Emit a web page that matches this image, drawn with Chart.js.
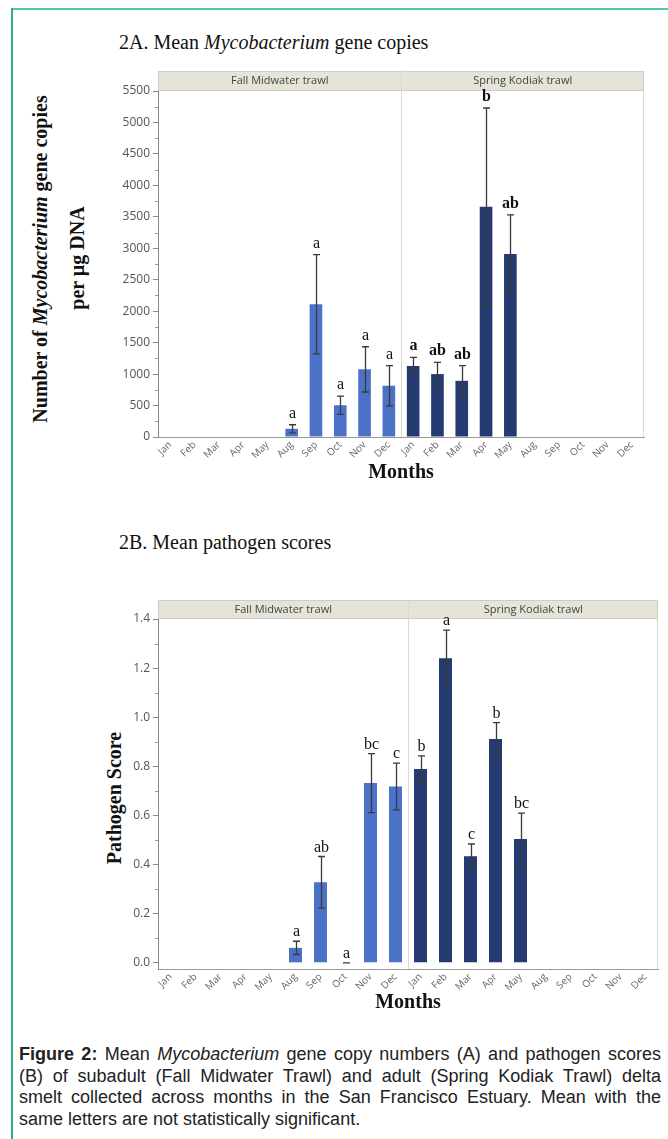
<!DOCTYPE html>
<html>
<head>
<meta charset="utf-8">
<script src="https://cdn.jsdelivr.net/npm/chart.js@4.4.0/dist/chart.umd.min.js"></script>
<style>
  body { margin: 0; background: #fff; width: 668px; height: 1139px; position: relative; overflow: hidden; font-family: "Liberation Serif", "Times New Roman", serif; }
  .frameTop { position: absolute; left: 11px; top: 8px; width: 657px; height: 2px; background: #55c6ac; }
  .frameLeft { position: absolute; left: 11px; top: 8px; width: 2px; height: 1131px; background: #2eaa8e; }
  .title { position: absolute; left: 119px; font-size: 20px; line-height: 23px; color: #111; white-space: nowrap; }
  .ytitle { position: absolute; font-weight: bold; font-size: 20px; color: #111; white-space: nowrap; transform: translate(-50%, -50%) rotate(-90deg); }
  canvas { position: absolute; left: 0; }
  .caption { position: absolute; left: 19px; width: 642px; top: 1044px; font-family: "Liberation Sans", Arial, sans-serif; font-size: 18px; line-height: 21.7px; color: #222; }
  .caption div { white-space: nowrap; text-align: justify; text-align-last: justify; }
  .caption div.last { text-align-last: left; }
</style>
</head>
<body>
<div class="frameTop"></div>
<div class="frameLeft"></div>

<div class="title" style="top:31px">2A. Mean <i>Mycobacterium</i> gene copies</div>
<div class="ytitle" style="left:40px; top:259px">Number of <i>Mycobacterium</i> gene copies</div>
<div class="ytitle" style="left:77px; top:258px">per µg DNA</div>
<canvas id="chartA" width="668" height="425" style="top:60px"></canvas>

<div class="title" style="top:531px">2B. Mean pathogen scores</div>
<div class="ytitle" style="left:114px; top:798px">Pathogen Score</div>
<canvas id="chartB" width="668" height="445" style="top:570px"></canvas>

<div class="caption">
  <div><b>Figure 2:</b> Mean <i>Mycobacterium</i> gene copy numbers (A) and pathogen scores</div>
  <div>(B) of subadult (Fall Midwater Trawl) and adult (Spring Kodiak Trawl) delta</div>
  <div>smelt collected across months in the San Francisco Estuary. Mean with the</div>
  <div class="last">same letters are not statistically significant.</div>
</div>

<script>
const months = ['Jan', 'Feb', 'Mar', 'Apr', 'May', 'Aug', 'Sep', 'Oct', 'Nov', 'Dec'];
const groups = ['Fall Midwater trawl', 'Spring Kodiak trawl'];
const none = [null, null, null, null, null, null, null, null, null, null];

// 2A - mean gene copies, error and letters
const fallCopies = [null, null, null, null, null, 130, 2110, 505, 1075, 815];
const fallCopiesErr = [null, null, null, null, null, 65, 790, 145, 360, 320];
const fallCopiesLetters = ['', '', '', '', '', 'a', 'a', 'a', 'a', 'a'];
const springCopies = [1130, 1000, 893, 3660, 2910, null, null, null, null, null];
const springCopiesErr = [135, 185, 240, 1570, 620, null, null, null, null, null];
const springCopiesLetters = ['a', 'ab', 'ab', 'b', 'ab', '', '', '', '', ''];
const copiesTicks = [0, 500, 1000, 1500, 2000, 2500, 3000, 3500, 4000, 4500, 5000, 5500];

// 2B - mean pathogen score, error and letters
const fallScore = [null, null, null, null, null, 0.061, 0.328, 0, 0.732, 0.718];
const fallScoreErr = [null, null, null, null, null, 0.027, 0.105, 0, 0.12, 0.095];
const fallScoreLetters = ['', '', '', '', '', 'a', 'ab', 'a', 'bc', 'c'];
const springScore = [0.789, 1.24, 0.434, 0.911, 0.504, null, null, null, null, null];
const springScoreErr = [0.054, 0.115, 0.05, 0.067, 0.106, null, null, null, null, null];
const springScoreLetters = ['b', 'a', 'c', 'b', 'bc', '', '', '', '', ''];
const scoreTicks = [0, 0.2, 0.4, 0.6, 0.8, 1.0, 1.2, 1.4];

const fallColor = '#4c72c8';
const springColor = '#243a70';
const tickFont = '"Open Sans", "Noto Sans", sans-serif';
const serif = '"Liberation Serif", "Times New Roman", serif';

// header band, panel divider and right frame
const panelPlugin = {
  id: 'panel',
  beforeDatasetsDraw(chart, args, opts) {
    const ctx = chart.ctx, a = chart.chartArea, x = chart.scales.x;
    const divX = Math.round((x.getPixelForValue(9) + x.getPixelForValue(10)) / 2) + 0.5;
    const bandTop = a.top - opts.bandH;
    ctx.save();
    ctx.fillStyle = '#e6e4d9';
    ctx.fillRect(a.left, bandTop, a.right - a.left, opts.bandH);
    ctx.strokeStyle = '#cfcdc2';
    ctx.lineWidth = 1;
    ctx.strokeRect(a.left + 0.5, bandTop + 0.5, a.right - a.left - 1, opts.bandH - 1);
    ctx.strokeStyle = '#d9d9d9';
    ctx.beginPath();
    ctx.moveTo(divX, bandTop); ctx.lineTo(divX, a.bottom);
    ctx.moveTo(Math.round(a.right) - 0.5, a.top); ctx.lineTo(Math.round(a.right) - 0.5, a.bottom);
    ctx.stroke();
    ctx.fillStyle = '#444';
    ctx.font = '11px ' + tickFont;
    ctx.textAlign = 'center';
    ctx.textBaseline = 'middle';
    ctx.fillText(groups[0], (a.left + divX) / 2, bandTop + opts.bandH / 2);
    ctx.fillText(groups[1], (divX + a.right) / 2, bandTop + opts.bandH / 2);
    ctx.restore();
  }
};

// error bars and significance letters
const errorPlugin = {
  id: 'errorBars',
  afterDatasetsDraw(chart, args, opts) {
    const ctx = chart.ctx, y = chart.scales.y;
    ctx.save();
    chart.data.datasets.forEach((ds, di) => {
      const meta = chart.getDatasetMeta(di);
      ds.data.forEach((v, i) => {
        if (v === null) return;
        const e = ds.err[i];
        const px = Math.round(meta.data[i].x) + 0.5;
        const top = y.getPixelForValue(v + e);
        const bot = y.getPixelForValue(v - e);
        ctx.strokeStyle = '#3a3a3a';
        ctx.lineWidth = 1.3;
        ctx.beginPath();
        ctx.moveTo(px, top); ctx.lineTo(px, bot);
        ctx.moveTo(px - 3.5, top); ctx.lineTo(px + 3.5, top);
        ctx.moveTo(px - 3.5, bot); ctx.lineTo(px + 3.5, bot);
        ctx.stroke();
        ctx.fillStyle = '#111';
        ctx.font = (ds.bold ? 'bold ' : '') + opts.size + 'px ' + serif;
        ctx.textAlign = 'center';
        ctx.textBaseline = 'alphabetic';
        ctx.fillText(ds.letters[i], px, top - opts.gap);
      });
    });
    ctx.restore();
  }
};

// minor ticks half way between the labelled ticks
const minorTickPlugin = {
  id: 'minorTicks',
  afterDraw(chart) {
    const ctx = chart.ctx, y = chart.scales.y;
    const t = y.ticks.map(k => k.value);
    ctx.save();
    ctx.strokeStyle = '#999';
    ctx.lineWidth = 1;
    ctx.beginPath();
    for (let i = 0; i < t.length - 1; i++) {
      const py = Math.round(y.getPixelForValue((t[i] + t[i + 1]) / 2)) + 0.5;
      ctx.moveTo(y.right - 3, py); ctx.lineTo(y.right, py);
    }
    ctx.stroke();
    ctx.restore();
  }
};

function makeChart(id, p) {
  return new Chart(document.getElementById(id).getContext('2d'), {
    type: 'bar',
    data: {
      labels: months.concat(months),
      datasets: [
        { data: p.fall.concat(none), err: p.fallErr.concat(none), letters: p.fallLetters.concat(none),
          backgroundColor: fallColor, grouped: false, barPercentage: 0.52, categoryPercentage: 1 },
        { data: none.concat(p.spring), err: none.concat(p.springErr), letters: none.concat(p.springLetters),
          bold: p.boldSpring, backgroundColor: springColor, grouped: false, barPercentage: 0.52, categoryPercentage: 1 }
      ]
    },
    options: {
      responsive: false,
      animation: false,
      layout: { padding: { left: 100, right: p.padRight, top: p.padTop, bottom: 0 } },
      plugins: {
        legend: { display: false },
        tooltip: { enabled: false },
        panel: { bandH: p.bandH },
        errorBars: { size: 16, gap: p.gap }
      },
      scales: {
        x: {
          grid: { display: false, drawTicks: false },
          border: { color: '#999' },
          ticks: { autoSkip: false, maxRotation: 45, minRotation: 45, padding: 2, color: '#666', font: { family: tickFont, size: 10 } },
          title: { display: true, text: 'Months', color: '#111', padding: 0, font: { family: serif, size: 20, weight: 'bold' } },
          afterFit: s => { s.height = p.xHeight; }
        },
        y: {
          min: p.min, max: p.max,
          afterBuildTicks: s => { s.ticks = p.ticks.map(v => ({ value: v })); },
          grid: { drawOnChartArea: false, tickLength: 5, tickColor: '#888' },
          border: { color: '#888' },
          ticks: { padding: 3, color: '#555', font: { family: tickFont, size: 12 }, callback: p.fmt },
          afterFit: s => { s.width = 58; }
        }
      }
    },
    plugins: [panelPlugin, errorPlugin, minorTickPlugin]
  });
}

makeChart('chartA', {
  fall: fallCopies, fallErr: fallCopiesErr, fallLetters: fallCopiesLetters,
  spring: springCopies, springErr: springCopiesErr, springLetters: springCopiesLetters, boldSpring: true,
  ticks: copiesTicks, min: 0, max: 5500, fmt: v => String(v),
  padRight: 24, padTop: 31, xHeight: 48, bandH: 20, gap: 7
});

makeChart('chartB', {
  fall: fallScore, fallErr: fallScoreErr, fallLetters: fallScoreLetters,
  spring: springScore, springErr: springScoreErr, springLetters: springScoreLetters, boldSpring: false,
  ticks: scoreTicks, min: -0.025, max: 1.4, fmt: v => v.toFixed(1),
  padRight: 10, padTop: 49, xHeight: 46, bandH: 19, gap: 5
});
</script>
</body>
</html>
